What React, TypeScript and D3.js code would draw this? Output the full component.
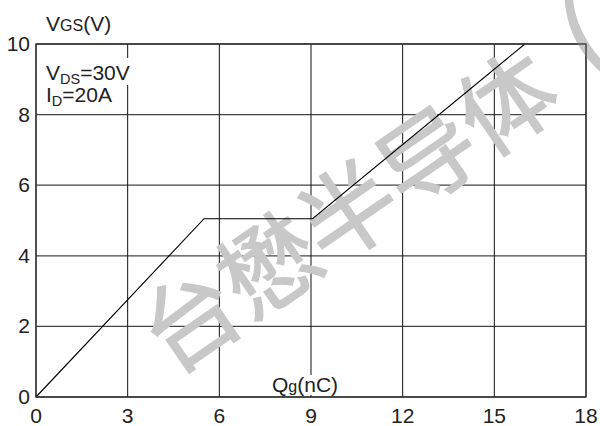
import React from "react";
import * as d3 from "d3";

const W = 600;
const H = 426;

// data
const qg = [0, 5.5, 9.05, 16];
const vgs = [0, 5.05, 5.05, 10];
const xTicks = [0, 3, 6, 9, 12, 15, 18];
const yTicks = [0, 2, 4, 6, 8, 10];
const watermark = "台懋半导体";
const watermarkTail = "(";

const FONT = "'Liberation Sans', Arial, sans-serif";
const TEXT = "#222";

export default function App() {
  const x = d3.scaleLinear().domain([0, 18]).range([36, 586]);
  const y = d3.scaleLinear().domain([0, 10]).range([397, 44]);
  const pts: [number, number][] = qg.map((q, i) => [q, vgs[i]]);
  const line = d3
    .line<[number, number]>()
    .x((d) => x(d[0]))
    .y((d) => y(d[1]));

  return (
    <svg
      width={W}
      height={H}
      style={{ position: "absolute", left: 0, top: 0, background: "#fff" }}
      fontFamily={FONT}
    >
      <rect x={0} y={0} width={W} height={H} fill="#fff" />
      {/* horizontal grid */}
      {yTicks.map((t) => (
        <line
          key={"h" + t}
          x1={x(0)}
          x2={x(18)}
          y1={y(t)}
          y2={y(t)}
          stroke="#444"
          strokeWidth={1.3}
        />
      ))}
      {/* vertical grid */}
      {xTicks.map((t) => (
        <line
          key={"v" + t}
          x1={x(t)}
          x2={x(t)}
          y1={y(0)}
          y2={y(10)}
          stroke="#111"
          strokeWidth={1}
        />
      ))}
      {/* watermark */}
      <g transform="translate(190,320) rotate(-34.5)">
        <text
          x={-48}
          y={36}
          fontSize={96}
          fontFamily="'Noto Sans CJK SC', sans-serif"
          fill="#c8c8c8"
          stroke="#c8c8c8"
          strokeWidth={1.5}
        >
          {watermark}
          <tspan dx={34} fontSize={110}>{watermarkTail}</tspan>
        </text>
      </g>
      {/* curve */}
      <path d={line(pts) || ""} fill="none" stroke="#000" strokeWidth={1.1} />
      {/* annotation */}
      <rect x={44} y={58} width={88} height={27} fill="#fff" />
      <text x={46} y={80} fontSize={21} fill={TEXT}>
        V
        <tspan fontSize={14.5} dy={4}>
          DS
        </tspan>
        <tspan dy={-4}>=30V</tspan>
      </text>
      <text x={46} y={102} fontSize={21} fill={TEXT}>
        I
        <tspan fontSize={14.5} dy={4}>
          D
        </tspan>
        <tspan dy={-4}>=20A</tspan>
      </text>
      {/* axis titles */}
      <text x={46} y={31} fontSize={21} fill={TEXT}>
        V<tspan fontSize={16}>GS</tspan>(V)
      </text>
      <rect x={270} y={375} width={74} height={20} fill="#fff" />
      <text x={272} y={392} fontSize={21} fill={TEXT}>
        Q<tspan fontSize={16}>g</tspan>(nC)
      </text>
      {/* tick labels */}
      {yTicks.map((t) => (
        <text
          key={"yl" + t}
          x={30}
          y={y(t) + 7}
          fontSize={21}
          textAnchor="end"
          fill={TEXT}
        >
          {t}
        </text>
      ))}
      {xTicks.map((t) => (
        <text
          key={"xl" + t}
          x={x(t)}
          y={423}
          fontSize={21}
          textAnchor="middle"
          fill={TEXT}
        >
          {t}
        </text>
      ))}
      {/* frame */}
      <rect
        x={x(0)}
        y={y(10)}
        width={x(18) - x(0)}
        height={y(0) - y(10)}
        fill="none"
        stroke="#333"
        strokeWidth={1.3}
      />
    </svg>
  );
}
